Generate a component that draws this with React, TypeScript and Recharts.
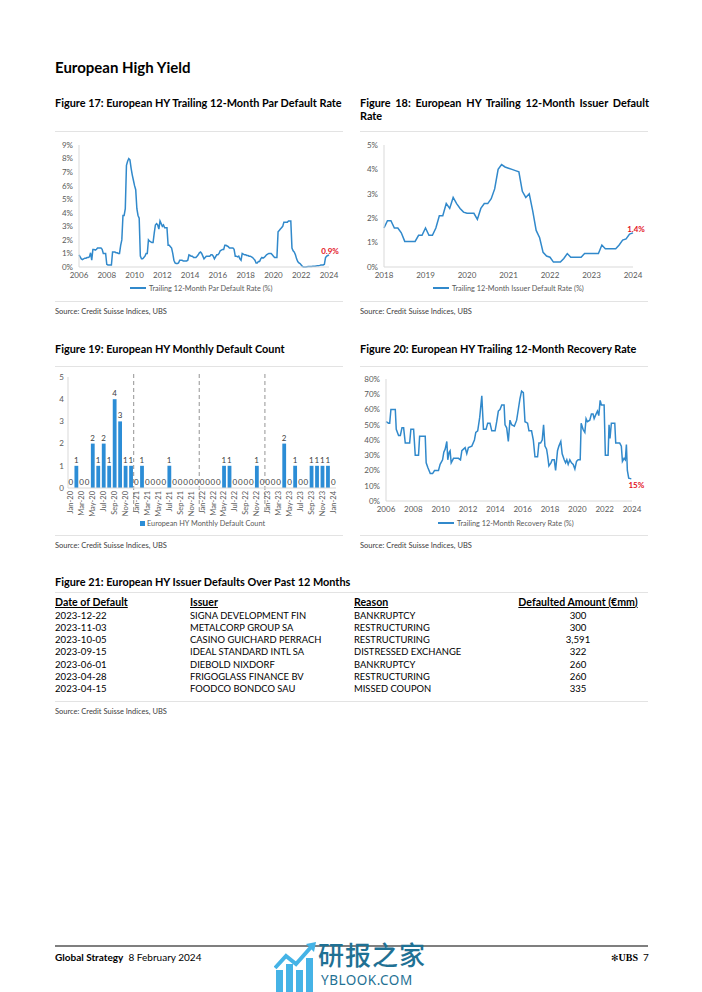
import {
  Bar,
  ComposedChart,
  LabelList,
  Line,
  LineChart,
  ReferenceLine,
  XAxis,
  YAxis,
} from "recharts";

const FONT = "Lato, 'Noto Sans', Arial, sans-serif";
const LINE_BLUE = "#3189cb";
const BAR_BLUE = "#2c8dd6";
const RED = "#e3121c";
const AXIS = "#d9d9d9";
const GREY_TXT = "#595959";
const tickStyle = { fill: GREY_TXT, fontSize: 8, fontFamily: FONT };

// Figure 17 - trailing 12m par default rate (%), monthly from Jan 2006 to Jan 2024
const parStart = 2006;
const parRate = [
  0.9, 0.75, 0.6, 0.55, 0.6, 0.65, 0.65, 0.7, 0.7, 0.75, 1.05, 0.5,
  1.3, 1.3, 1.25, 1.3, 1.4, 1.4, 1.4, 1.4, 1.3, 1.0, 1.0, 1.0,
  0.2, 0.15, 0.15, 0.15, 0.15, 1.1, 1.1, 1.1, 1.05, 1.05, 1.0, 1.0,
  1.6, 2.0, 3.8, 3.8, 4.3, 7.5, 7.8, 8.0, 7.9, 7.3, 6.8, 6.4,
  6.0, 5.7, 4.3, 3.8, 3.6, 0.8, 0.6, 0.6, 0.7, 0.8, 1.0, 1.0,
  2.0, 1.9, 1.85, 1.8, 1.8, 2.5, 3.1, 3.2, 3.1, 2.8, 3.4, 3.2,
  3.0, 3.1, 2.9, 2.9, 2.9, 1.6, 1.6, 1.5, 1.4, 1.0, 0.5, 0.3,
  0.25, 0.25, 0.3, 0.5, 0.5, 0.5, 0.45, 0.45, 0.45, 0.45, 0.5, 0.9,
  0.85, 0.8, 0.8, 0.7, 0.7, 0.7, 0.8, 0.9, 1.05, 1.1, 1.0, 0.8,
  0.6, 0.7, 0.8, 0.8, 0.8, 0.8, 0.9, 0.9, 0.8, 0.6, 0.75, 0.9,
  0.9, 1.0, 1.2, 1.25, 1.3, 1.3, 1.6, 1.6, 1.55, 1.5, 1.4, 1.4,
  1.4, 1.4, 1.3, 0.8, 0.8, 0.75, 0.8, 0.6, 0.5, 1.0, 0.95, 0.9,
  0.9, 0.85, 0.85, 0.8, 0.8, 0.75, 0.7, 0.6, 0.5, 0.3, 0.3, 0.4,
  0.4, 0.6, 0.7, 0.65, 0.7, 0.8, 0.9, 0.95, 1.0, 1.0, 1.0, 0.9,
  0.8, 0.7, 0.7, 0.7, 2.6, 2.7, 2.8, 2.9, 3.0, 3.3, 3.3, 3.3,
  3.3, 3.4, 3.4, 3.4, 1.4, 1.2, 1.1, 0.9, 0.6, 0.4, 0.3, 0.25,
  0.15, 0.05, 0.0, 0.0, 0.0, 0.02, 0.03, 0.03, 0.03, 0.04, 0.05, 0.05,
  0.06, 0.08, 0.1, 0.1, 0.12, 0.15, 0.15, 0.15, 0.2, 0.7, 0.8, 0.85,
  0.9,
];
const parTicks = [2006, 2008, 2010, 2012, 2014, 2016, 2018, 2020, 2022, 2024];
const parPct = [0, 1, 2, 3, 4, 5, 6, 7, 8, 9];

// Figure 18 - trailing 12m issuer default rate (%), monthly from Jan 2018 to Jan 2024
const issuerStart = 2018;
const issuerRate = [
  1.6, 1.9, 1.9, 1.6, 1.6, 1.4, 1.05, 1.05, 1.05, 1.05, 1.3, 1.3,
  1.6, 1.3, 1.3, 1.6, 2.1, 2.1, 2.6, 2.4, 2.85, 2.6, 2.4, 2.25,
  2.2, 2.2, 2.2, 1.95, 2.4, 2.6, 2.6, 2.8, 3.2, 4.0, 4.2, 4.1,
  4.05, 4.0, 3.95, 3.9, 3.1, 2.85, 3.0, 2.3, 1.5, 1.2, 0.6, 0.45,
  0.4, 0.2, 0.2, 0.2, 0.35, 0.55, 0.4, 0.4, 0.4, 0.4, 0.55, 0.55,
  0.55, 0.55, 0.55, 0.9, 0.75, 0.75, 0.75, 0.75, 0.9, 1.1, 1.15, 1.35,
  1.4,
];
const issuerTicks = [2018, 2019, 2020, 2021, 2022, 2023, 2024];
const issuerPct = [0, 1, 2, 3, 4, 5];

// Figure 19 - monthly default count, Jan-20 to Jan-24
const countYears = ["20", "21", "22", "23", "24"];
const monthAbbr = ["Jan", "Feb", "Mar", "Apr", "May", "Jun", "Jul", "Aug", "Sep", "Oct", "Nov", "Dec"];
const defaultCount = [
  0, 1, 0, 0, 2, 1, 2, 1, 4, 3, 1, 1,
  0, 1, 0, 0, 0, 0, 1, 0, 0, 0, 0, 0,
  0, 0, 0, 0, 1, 1, 0, 0, 0, 0, 1, 0,
  0, 0, 0, 2, 0, 1, 0, 0, 1, 1, 1, 1,
  0,
];
const yearStarts = ["Jan-21", "Jan-22", "Jan-23"];
const countTicks = [0, 1, 2, 3, 4, 5];

// Figure 20 - trailing 12m recovery rate (%)
const recoveryDate = [
  2006.0, 2006.19, 2006.27, 2006.36, 2006.68, 2006.75, 2006.92, 2007.05, 2007.17, 2007.29,
  2007.41, 2007.73, 2007.82, 2008.02, 2008.14, 2008.38, 2008.46, 2008.87, 2008.94, 2009.06,
  2009.24, 2009.41, 2009.55, 2009.84, 2009.96, 2010.14, 2010.23, 2010.33, 2010.45, 2010.52,
  2010.62, 2010.69, 2010.77, 2010.94, 2011.3, 2011.45, 2011.55, 2011.67, 2011.79, 2011.91,
  2012.03, 2012.28, 2012.47, 2012.57, 2012.71, 2012.86, 2013.01, 2013.13, 2013.32, 2013.44,
  2013.61, 2013.74, 2013.98, 2014.1, 2014.22, 2014.34, 2014.47, 2014.64, 2014.71, 2014.83,
  2014.95, 2015.07, 2015.19, 2015.39, 2015.56, 2015.68, 2015.8, 2015.92, 2016.05, 2016.17,
  2016.36, 2016.46, 2016.65, 2016.78, 2016.9, 2017.09, 2017.19, 2017.31, 2017.43, 2017.53,
  2017.63, 2017.75, 2017.82, 2017.92, 2018.07, 2018.16, 2018.31, 2018.41, 2018.55, 2018.65,
  2018.79, 2018.89, 2019.04, 2019.14, 2019.23, 2019.33, 2019.45, 2019.57, 2019.7, 2019.82,
  2019.94, 2020.06, 2020.21, 2020.28, 2020.42, 2020.55, 2020.64, 2020.74, 2020.91, 2021.03,
  2021.15, 2021.23, 2021.32, 2021.47, 2021.57, 2021.67, 2021.76, 2021.96, 2022.05, 2022.25,
  2022.32, 2022.39, 2022.49, 2022.74, 2022.81, 2023.1, 2023.22, 2023.3, 2023.42, 2023.51,
  2023.59, 2023.66, 2023.76, 2023.95,
];
const recoveryRate = [
  52, 51, 51, 60, 60, 47, 43, 43, 48, 48,
  38, 38, 47, 47, 30, 30, 42.5, 42.5, 25, 22,
  18, 18, 20, 20, 24, 27, 32, 34, 39, 27,
  32, 33, 25, 28, 28, 27, 33, 34, 35, 31,
  35, 36, 40, 45, 46, 55, 69, 47, 47, 51,
  51, 46, 46, 52, 59, 60, 63, 63, 50, 48,
  39, 53, 50, 49, 53, 60, 67, 72, 71, 52,
  51, 46, 46, 40, 29, 29, 38, 38, 40, 50,
  36, 34, 30, 23, 25, 27, 27, 20, 33, 36,
  39, 31, 27, 25, 27, 24, 27, 25, 24, 21,
  26, 27, 27, 51, 47, 45, 54, 52, 53, 57,
  57, 54, 56, 59, 56, 66, 63, 63, 30, 30,
  50, 41, 51, 51, 38, 38, 36, 26, 28, 27,
  37, 20, 15, 14.5,
];
const recoveryTicks = [2006, 2008, 2010, 2012, 2014, 2016, 2018, 2020, 2022, 2024];
const recoveryPct = [0, 10, 20, 30, 40, 50, 60, 70, 80];

// Figure 21 - issuer defaults over past 12 months
const tableHead = ["Date of Default", "Issuer", "Reason", "Defaulted Amount (€mm)"];
const defaultDates = ["2023-12-22", "2023-11-03", "2023-10-05", "2023-09-15", "2023-06-01", "2023-04-28", "2023-04-15"];
const issuers = [
  "SIGNA DEVELOPMENT FIN",
  "METALCORP GROUP SA",
  "CASINO GUICHARD PERRACH",
  "IDEAL STANDARD INTL SA",
  "DIEBOLD NIXDORF",
  "FRIGOGLASS FINANCE BV",
  "FOODCO BONDCO SAU",
];
const reasons = ["BANKRUPTCY", "RESTRUCTURING", "RESTRUCTURING", "DISTRESSED EXCHANGE", "BANKRUPTCY", "RESTRUCTURING", "MISSED COUPON"];
const amounts = ["300", "300", "3,591", "322", "260", "260", "335"];

const parData = parRate.map((v, i) => ({ t: parStart + i / 12, v }));
const issuerData = issuerRate.map((v, i) => ({ t: issuerStart + i / 12, v }));
const recoveryData = recoveryDate.map((t, i) => ({ t, v: recoveryRate[i] }));
const countMonths = countYears.flatMap((y) => monthAbbr.map((m) => `${m}-${y}`)).slice(0, defaultCount.length);
const countData = defaultCount.map((n, i) => ({ m: countMonths[i], n }));

function Txt({
  x, y, size = 9, bold = false, color = "#000", w, align, children, style,
}: any) {
  return (
    <div
      style={{
        position: "absolute",
        left: x,
        top: y - size * 0.65,
        width: w,
        textAlign: align,
        fontSize: size,
        lineHeight: `${size * 1.3}px`,
        fontWeight: bold ? 700 : 400,
        color,
        fontFamily: FONT,
        whiteSpace: w ? "normal" : "nowrap",
        ...style,
      }}
    >
      {children}
    </div>
  );
}

function HRule({ x, y, w, color = "#e3e3e3", h = 1 }: any) {
  return <div style={{ position: "absolute", left: x, top: y, width: w, height: h, background: color }} />;
}

function LineLegend({ x, y, label }: { x: number; y: number; label: string }) {
  return (
    <div style={{ position: "absolute", left: x, top: y - 6, height: 12, display: "flex", alignItems: "center", gap: 3 }}>
      <span style={{ width: 16, height: 1.6, background: LINE_BLUE, display: "inline-block" }} />
      <span style={{ fontSize: 7.3, color: GREY_TXT, fontFamily: FONT }}>{label}</span>
    </div>
  );
}

function endLabel(lastIndex: number, text: string, dx: number, dy: number) {
  return (p: any) =>
    p.index === lastIndex ? (
      <text
        x={p.x + dx}
        y={p.y + dy}
        textAnchor="middle"
        fill={RED}
        fontSize={8}
        fontWeight={700}
        fontFamily={FONT}
      >
        {text}
      </text>
    ) : null;
}

function RateChart({
  data, domainX, xTicks, yTicks, yWidth, rightMargin, endText, labelDx, labelDy,
}: any) {
  const yMax = yTicks[yTicks.length - 1];
  return (
    <LineChart width={300} height={150} data={data} margin={{ top: 10, right: rightMargin, left: 0, bottom: 4 }}>
      <XAxis
        dataKey="t"
        type="number"
        domain={domainX}
        ticks={xTicks}
        tick={tickStyle}
        tickLine={false}
        tickSize={3}
        axisLine={{ stroke: AXIS }}
        height={14}
        interval={0}
      />
      <YAxis
        domain={[0, yMax]}
        ticks={yTicks}
        tick={tickStyle}
        tickFormatter={(v: number) => `${v}%`}
        tickLine={false}
        tickSize={4}
        axisLine={{ stroke: AXIS }}
        width={yWidth}
        interval={0}
      />
      <Line
        dataKey="v"
        stroke={LINE_BLUE}
        strokeWidth={1.5}
        dot={false}
        activeDot={false}
        isAnimationActive={false}
        label={endLabel(data.length - 1, endText, labelDx, labelDy)}
      />
    </LineChart>
  );
}

function MonthTick({ x, y, payload }: any) {
  const ty = y + 1;
  return (
    <text
      x={x}
      y={ty}
      dy={2.6}
      transform={`rotate(-90 ${x} ${ty})`}
      textAnchor="end"
      fill={GREY_TXT}
      fontSize={7.5}
      fontFamily={FONT}
    >
      {payload.value}
    </text>
  );
}

function YearDivider(p: any) {
  const top = Math.min(p.y1, p.y2) - 3;
  const bottom = Math.max(p.y1, p.y2) + 24;
  return <line x1={p.x1} x2={p.x2} y1={top} y2={bottom} stroke="#a6a6a6" strokeWidth={1.2} strokeDasharray="4 3" />;
}

function CountChart() {
  return (
    <ComposedChart width={305} height={150} data={countData} margin={{ top: 9, right: 9, left: 0, bottom: 2 }}>
      <XAxis
        dataKey="m"
        interval={1}
        tick={<MonthTick />}
        tickLine={false}
        tickSize={0}
        tickMargin={2}
        axisLine={{ stroke: AXIS }}
        height={28}
      />
      <YAxis
        domain={[0, 5]}
        ticks={countTicks}
        tick={tickStyle}
        tickLine={false}
        tickSize={2}
        axisLine={{ stroke: AXIS }}
        width={28}
        interval={0}
      />
      {yearStarts.map((m) => (
        <ReferenceLine key={m} x={m} position="start" shape={YearDivider} />
      ))}
      <Bar dataKey="n" fill={BAR_BLUE} barSize={3.8} isAnimationActive={false} />
      {/* value labels (including the zeros) ride on an invisible line through the bar tops */}
      <Line dataKey="n" stroke="none" dot={false} activeDot={false} isAnimationActive={false}>
        <LabelList dataKey="n" position="top" offset={3} style={{ fill: "#404040", fontSize: 8, fontFamily: FONT }} />
      </Line>
    </ComposedChart>
  );
}

function Watermark() {
  return (
    <div style={{ position: "absolute", left: 274, top: 940, width: 160, height: 52 }}>
      <svg width={44} height={52} style={{ position: "absolute", left: 0, top: 0 }}>
        <rect x={2} y={30} width={7} height={22} fill="#45b3e6" />
        <rect x={12} y={24} width={7} height={28} fill="#45b3e6" />
        <rect x={22} y={30} width={7} height={22} fill="#45b3e6" />
        <rect x={32} y={18} width={7} height={34} fill="#45b3e6" />
        <polyline points="1,28 12,16 22,24 38,6" fill="none" stroke="#45b3e6" strokeWidth={4} />
        <polygon points="32,4 42,2 40,12" fill="#45b3e6" />
      </svg>
      <div style={{ position: "absolute", left: 44, top: 0, fontSize: 26, lineHeight: "28px", color: "#1f7194", fontFamily: "'Noto Sans CJK SC'", fontWeight: 500, letterSpacing: 1 }}>
        研报之家
      </div>
      <div style={{ position: "absolute", left: 47, top: 32, fontSize: 13.5, lineHeight: "16px", color: "#1f7194", fontFamily: "'Noto Sans', sans-serif", letterSpacing: 0.5 }}>
        YBLOOK.COM
      </div>
    </div>
  );
}

export default function App() {
  const rowY = [616, 628.2, 640.4, 652.6, 664.8, 677, 689.2];
  const head = { textDecoration: "underline" };
  return (
    <div style={{ position: "absolute", left: 0, top: 0, width: 702, height: 992, background: "#fff", overflow: "hidden", fontFamily: FONT }}>
      <Txt x={55} y={68} size={15} bold>European High Yield</Txt>

      {/* Figure 17 */}
      <Txt x={55} y={103} size={10.9} bold>Figure 17: European HY Trailing 12-Month Par Default Rate</Txt>
      <HRule x={55} y={131} w={288} />
      <div style={{ position: "absolute", left: 50, top: 135 }}>
        <RateChart data={parData} domainX={[2006, 2024]} xTicks={parTicks} yTicks={parPct} yWidth={29} rightMargin={21} endText="0.9%" labelDx={1} labelDy={-1} />
      </div>
      <LineLegend x={130} y={288} label="Trailing 12-Month Par Default Rate (%)" />
      <HRule x={55} y={301} w={288} />
      <Txt x={55} y={312} size={7.5} color="#404040">Source: Credit Suisse Indices, UBS</Txt>

      {/* Figure 18 */}
      <Txt x={360} y={103} size={10.9} bold w={289} align="justify" style={{ lineHeight: "13px", top: 96 }}>
        Figure 18: European HY Trailing 12-Month Issuer Default Rate
      </Txt>
      <HRule x={360} y={131} w={288} />
      <div style={{ position: "absolute", left: 355, top: 135 }}>
        <RateChart data={issuerData} domainX={[2018, 2024]} xTicks={issuerTicks} yTicks={issuerPct} yWidth={29} rightMargin={22} endText="1.4%" labelDx={3} labelDy={-1} />
      </div>
      <LineLegend x={433} y={288} label="Trailing 12-Month Issuer Default Rate (%)" />
      <HRule x={360} y={301} w={288} />
      <Txt x={360} y={312} size={7.5} color="#404040">Source: Credit Suisse Indices, UBS</Txt>

      {/* Figure 19 */}
      <Txt x={55} y={349} size={10.9} bold>Figure 19: European HY Monthly Default Count</Txt>
      <HRule x={55} y={366} w={288} />
      <div style={{ position: "absolute", left: 40, top: 368 }}>
        <CountChart />
      </div>
      <div style={{ position: "absolute", left: 140, top: 517, height: 12, display: "flex", alignItems: "center", gap: 2 }}>
        <span style={{ width: 5, height: 5, background: BAR_BLUE, display: "inline-block" }} />
        <span style={{ fontSize: 7.3, color: GREY_TXT, fontFamily: FONT }}>European HY Monthly Default Count</span>
      </div>
      <HRule x={55} y={535} w={288} />
      <Txt x={55} y={546} size={7.5} color="#404040">Source: Credit Suisse Indices, UBS</Txt>

      {/* Figure 20 */}
      <Txt x={360} y={349} size={10.9} bold>Figure 20: European HY Trailing 12-Month Recovery Rate</Txt>
      <HRule x={360} y={366} w={288} />
      <div style={{ position: "absolute", left: 355, top: 369 }}>
        <RateChart data={recoveryData} domainX={[2006, 2024]} xTicks={recoveryTicks} yTicks={recoveryPct} yWidth={31} rightMargin={23} endText="15%" labelDx={5} labelDy={9} />
      </div>
      <LineLegend x={438} y={523} label="Trailing 12-Month Recovery Rate (%)" />
      <HRule x={360} y={535} w={288} />
      <Txt x={360} y={546} size={7.5} color="#404040">Source: Credit Suisse Indices, UBS</Txt>

      {/* Figure 21 */}
      <Txt x={55} y={582} size={10.9} bold>Figure 21: European HY Issuer Defaults Over Past 12 Months</Txt>
      <HRule x={55} y={592} w={593} />
      <Txt x={55} y={603} size={10.6} bold style={head}>{tableHead[0]}</Txt>
      <Txt x={190} y={603} size={10.6} bold style={head}>{tableHead[1]}</Txt>
      <Txt x={354} y={603} size={10.6} bold style={head}>{tableHead[2]}</Txt>
      <Txt x={508} y={603} size={10.6} bold w={140} align="center" style={head}>{tableHead[3]}</Txt>
      {defaultDates.map((d, i) => (
        <div key={d + i}>
          <Txt x={55} y={rowY[i]} size={9.6}>{d}</Txt>
          <Txt x={190} y={rowY[i]} size={9.4}>{issuers[i]}</Txt>
          <Txt x={354} y={rowY[i]} size={9.4}>{reasons[i]}</Txt>
          <Txt x={508} y={rowY[i]} size={9.6} w={140} align="center">{amounts[i]}</Txt>
        </div>
      ))}
      <HRule x={55} y={701} w={593} />
      <Txt x={55} y={712} size={7.5} color="#404040">Source: Credit Suisse Indices, UBS</Txt>

      {/* footer */}
      <HRule x={55} y={945} w={593} color="#7f7f7f" h={1.5} />
      <Txt x={55} y={957} size={10}>
        <b>Global Strategy</b>&nbsp; 8 February 2024
      </Txt>
      <Watermark />
      <Txt x={611} y={957} size={10}>
        <span style={{ fontFamily: "'DejaVu Sans'", fontSize: 9 }}>✻</span>
        <span style={{ fontFamily: "'Liberation Serif', serif", fontWeight: 700 }}>UBS</span>
        <span>&nbsp; 7</span>
      </Txt>
    </div>
  );
}
